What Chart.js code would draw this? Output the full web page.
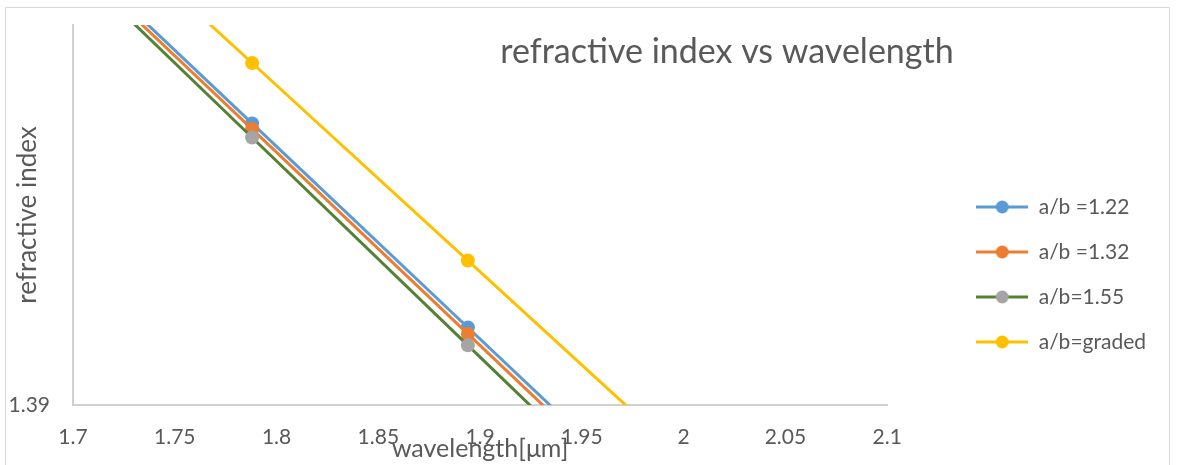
<!DOCTYPE html>
<html lang="en">
<head>
<meta charset="UTF-8">
<title>refractive index vs wavelength</title>
<script src="https://cdn.jsdelivr.net/npm/chart.js"></script>
<style>
    body { margin: 0; background: #fff; }
    #chartBox { width: 1178px; height: 465px; }
</style>
</head>
<body>

<div id="chartBox">
    <canvas id="indexChart" width="1178" height="465"></canvas>
</div>

<script>
    // wavelength in um; first and last entries are the off-plot ends of each line
    const wavelength = [1.70, 1.788, 1.894, 2.00];

    // refractive index per structure
    const n122 = [1.40187, 1.39741, 1.39204, 1.38667];
    const n132 = [1.40173, 1.39726, 1.39187, 1.38648];
    const n155 = [1.40158, 1.39704, 1.39157, 1.38610];
    const nGraded = [1.40332, 1.39900, 1.39380, 1.38860];

    const seriesNames = ['a/b =1.22', 'a/b =1.32', 'a/b=1.55', 'a/b=graded'];
    const xTicks = [1.7, 1.75, 1.8, 1.85, 1.9, 1.95, 2, 2.05, 2.1];
    const yTicks = [1.39];

    const lineColors = ['#5B9BD5', '#ED7D31', '#548235', '#FFC000'];
    const markerColors = ['#5B9BD5', '#ED7D31', '#A5A5A5', '#FFC000'];
    const textColor = '#595959';
    const axisColor = '#d0d0d0';

    Chart.defaults.font.family = 'Lato';
    Chart.defaults.color = textColor;

    // little "line with a dot" picture for the legend
    function legendIcon(line, marker) {
        const c = document.createElement('canvas');
        c.width = 52;
        c.height = 16;
        const g = c.getContext('2d');
        g.strokeStyle = line;
        g.lineWidth = 3;
        g.beginPath();
        g.moveTo(0, 8);
        g.lineTo(52, 8);
        g.stroke();
        g.fillStyle = marker;
        g.beginPath();
        g.arc(26, 8, 6.5, 0, Math.PI * 2);
        g.fill();
        return c;
    }
    const icons = lineColors.map((c, i) => legendIcon(c, markerColors[i]));

    const allSeries = [n122, n132, n155, nGraded];
    const datasets = allSeries.map((vals, i) => ({
        label: seriesNames[i],
        data: wavelength.map((w, k) => ({ x: w, y: vals[k] })),
        borderColor: lineColors[i],
        backgroundColor: markerColors[i],
        pointBackgroundColor: markerColors[i],
        pointBorderWidth: 0,
        pointRadius: wavelength.map((w, k) => (k === 0 || k === wavelength.length - 1) ? 0 : 7),
        borderWidth: 3,
        tension: 0,
        clip: 0,
        order: 3 - i
    }));

    const frame = {
        id: 'frame',
        beforeDraw(chart) {
            const ctx = chart.ctx;
            ctx.save();
            ctx.fillStyle = '#fff';
            ctx.fillRect(0, 0, chart.width, chart.height);
            ctx.strokeStyle = '#d9d9d9';
            ctx.lineWidth = 1;
            ctx.strokeRect(5.5, 7.5, 1164, 480);
            ctx.restore();
        }
    };

    const chartTitle = {
        id: 'chartTitle',
        afterDraw(chart) {
            const ctx = chart.ctx;
            ctx.save();
            ctx.font = '34px Lato';
            ctx.fillStyle = textColor;
            ctx.textAlign = 'center';
            ctx.textBaseline = 'alphabetic';
            ctx.fillText('refractive index vs wavelength', 727, 63);
            ctx.restore();
        }
    };

    new Chart(document.getElementById('indexChart'), {
        type: 'line',
        data: { datasets },
        plugins: [frame, chartTitle],
        options: {
            responsive: false,
            animation: false,
            events: [],
            layout: { padding: { top: 25, right: 22, bottom: 0, left: 0 } },
            plugins: {
                tooltip: { enabled: false },
                legend: {
                    position: 'right',
                    align: 'center',
                    maxWidth: 300,
                    title: { display: true, text: ' ', font: { size: 10, lineHeight: 1 }, padding: { top: 49, bottom: 0 } },
                    labels: {
                        usePointStyle: true,
                        pointStyleWidth: 52,
                        padding: 24,
                        color: textColor,
                        font: { size: 21 },
                        generateLabels: (chart) => chart.data.datasets.map((ds, i) => ({
                            text: ds.label,
                            pointStyle: icons[i],
                            fillStyle: 'transparent',
                            strokeStyle: 'transparent',
                            lineWidth: 0,
                            fontColor: textColor,
                            hidden: false,
                            datasetIndex: i
                        }))
                    }
                }
            },
            scales: {
                x: {
                    type: 'linear',
                    min: 1.7,
                    max: 2.1,
                    afterBuildTicks: (s) => { s.ticks = xTicks.map(v => ({ value: v })); },
                    ticks: {
                        callback: (v) => String(+v.toFixed(2)),
                        padding: 20,
                        font: { size: 21 }
                    },
                    grid: { display: false, drawTicks: false },
                    border: { display: true, color: axisColor, width: 2 },
                    title: {
                        display: true,
                        text: 'wavelength[μm]',
                        font: { size: 25 },
                        padding: { top: 0, bottom: 1 }
                    },
                    afterFit: (s) => { s.height = 60; }
                },
                y: {
                    type: 'linear',
                    min: 1.39,
                    max: 1.40,
                    afterBuildTicks: (s) => { s.ticks = yTicks.map(v => ({ value: v })); },
                    ticks: {
                        callback: (v) => v.toFixed(2),
                        padding: 23,
                        font: { size: 21 }
                    },
                    grid: { display: false, drawTicks: false },
                    border: { display: true, color: axisColor, width: 2 },
                    title: {
                        display: true,
                        text: 'refractive index',
                        font: { size: 26 },
                        padding: { top: 12, bottom: 0 }
                    },
                    afterFit: (s) => {
                        s.width = 73;
                        s.paddingTop = 0;
                        s.paddingBottom = 0;
                    }
                },
                // empty axis that keeps the gap between plot and legend
                gap: {
                    type: 'linear',
                    position: 'right',
                    grid: { display: false },
                    border: { display: false },
                    ticks: { display: false },
                    afterFit: (s) => { s.width = 65; }
                }
            }
        }
    });
</script>

</body>
</html>
